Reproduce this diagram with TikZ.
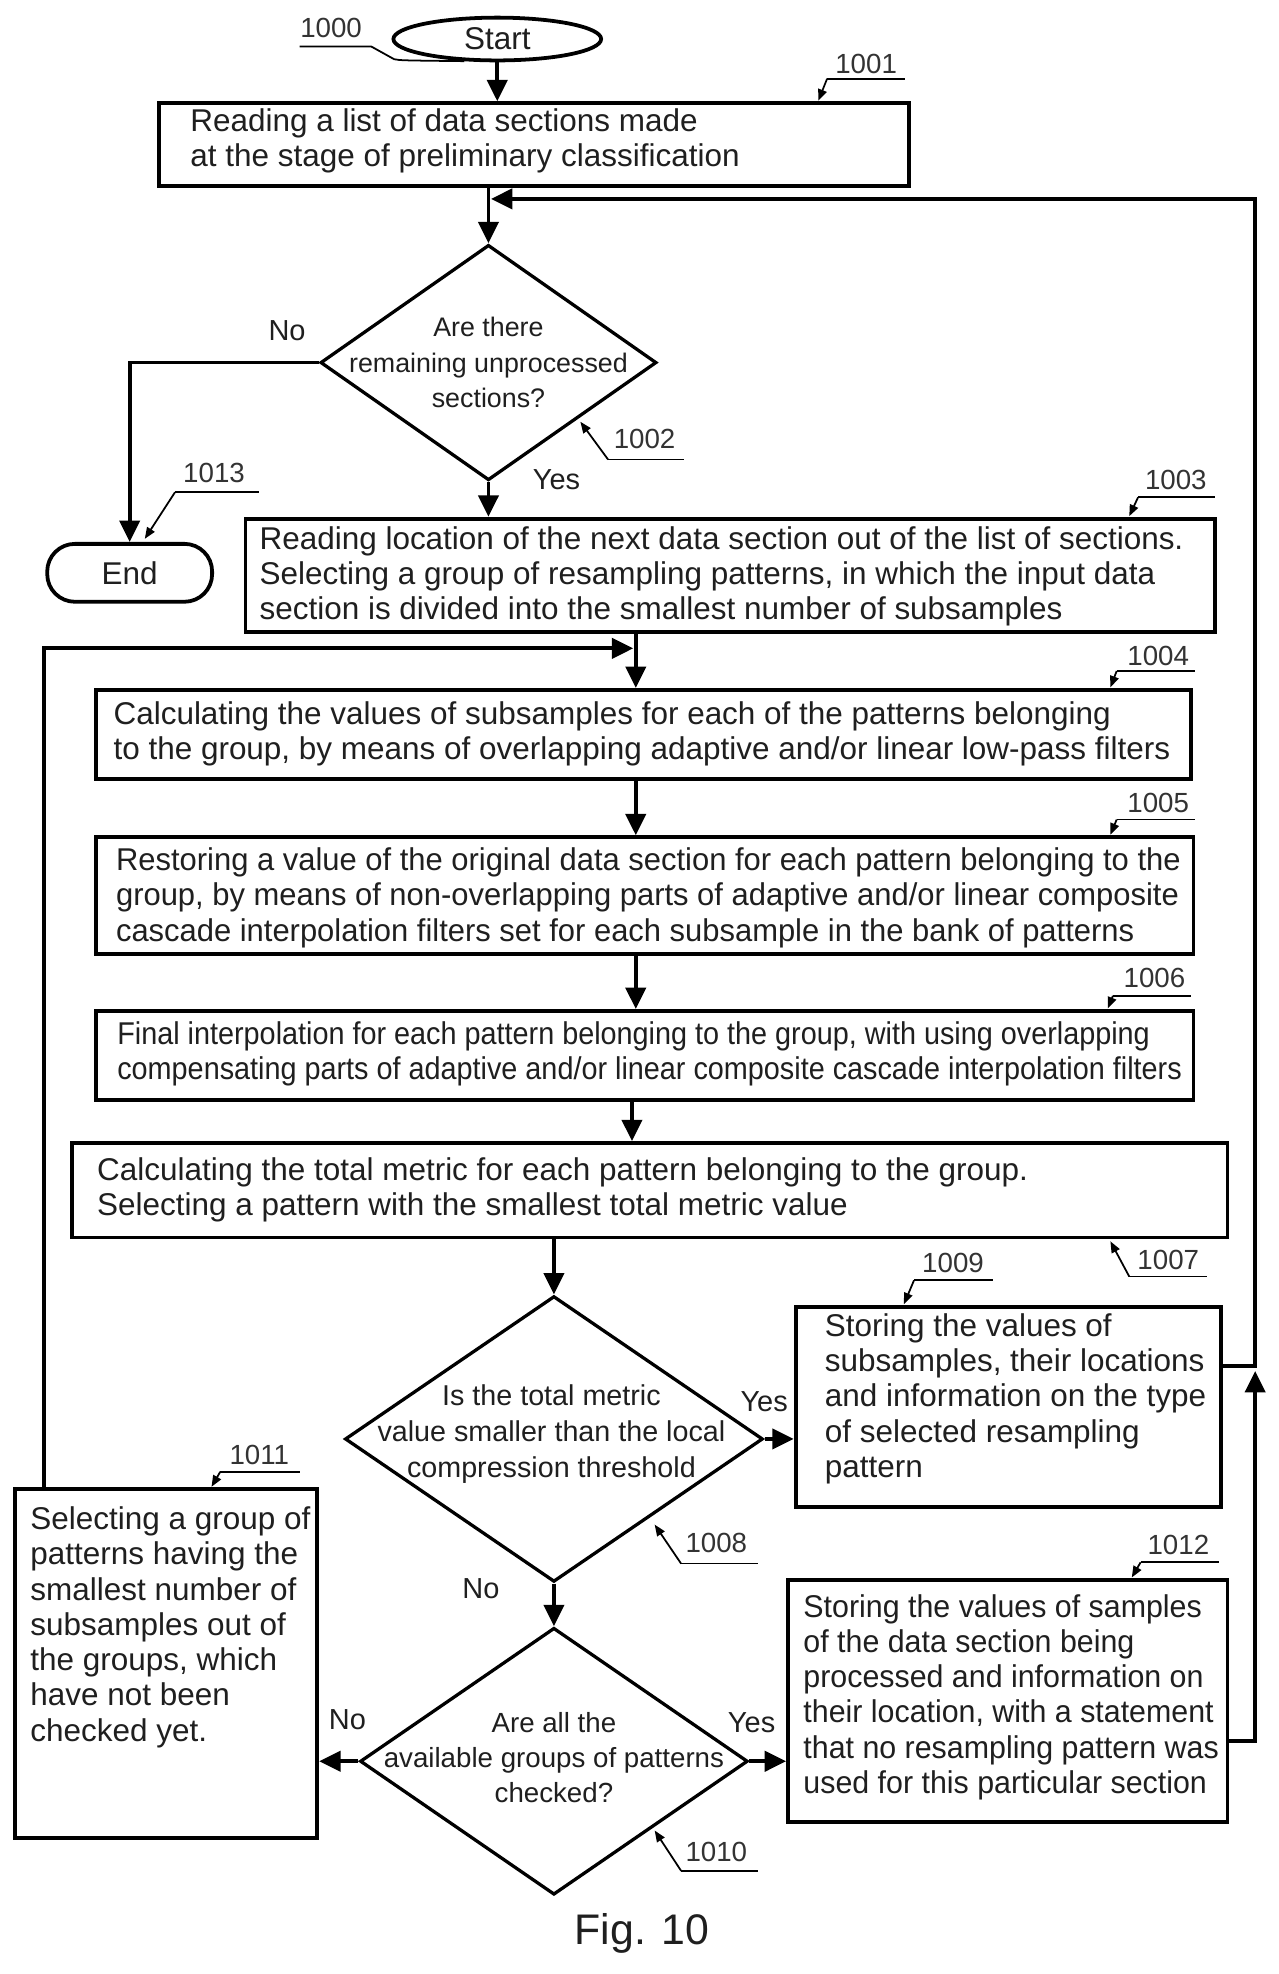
\documentclass[tikz,border=0pt]{standalone}
\usepackage{fontspec}
\setmainfont{Liberation Sans}
\newfontfamily\condA{Liberation Sans}[FakeStretch=0.983]
\newfontfamily\condB{Liberation Sans}[FakeStretch=0.915]
\newfontfamily\condC{Liberation Sans}[FakeStretch=0.965]
\usetikzlibrary{arrows.meta,shapes.geometric,calc}
\begin{document}
\begin{tikzpicture}[x=1pt,y=-1pt,
 every node/.style={text=black!88},
 box/.style={draw=black, line width=3.1pt, rectangle, inner sep=0pt},
 btext/.style={anchor=west, align=left, inner sep=0pt, font=\fontsize{25}{28}\selectfont},
 dia/.style={draw=black, line width=2.6pt, diamond, inner sep=0pt},
 dtext/.style={align=center, inner sep=0pt},
 term/.style={draw=black, line width=3pt, inner sep=0pt, font=\fontsize{25}{28}\selectfont},
 yn/.style={inner sep=0pt, font=\fontsize{23}{26}\selectfont},
 lbl/.style={inner sep=0pt, font=\fontsize{22}{24}\selectfont, text=black!80},
 uline/.style={line width=1.4pt},
 leader/.style={line width=1.4pt, -{Triangle[length=9pt,width=7pt]}},
 arr/.style={line width=3pt, -{Triangle[length=17pt,width=16pt]}},
]
\useasboundingbox (0,0) rectangle (1015.2,1568);
\fill[white] (0,0) rectangle (1015.2,1568);

% helper coordinates
\coordinate (sp) at (505,0);
\coordinate (sp2) at (502,0);
\coordinate (xl) at (35,0);
\coordinate (xr) at (997,0);

% terminals
\node[term, ellipse, minimum width=165pt, minimum height=34pt] (start) at (395,31) {Start};
\node[term, rectangle, rounded corners=22pt, minimum width=131pt, minimum height=46pt] (end) at (103,455) {End};

% boxes
\node[box, minimum width=596pt, minimum height=66pt] (n1001) at (424,115) {};
\node[btext] (t1001) at (151,112) {Reading a list of data sections made\\at the stage of preliminary classification};

\node[box, minimum width=770pt, minimum height=90pt] (n1003) at (580,457) {};
\node[btext] (t1003) at (206,458) {Reading location of the next data section out of the list of sections.\\Selecting a group of resampling patterns, in which the input data\\section is divided into the smallest number of subsamples};

\node[box, minimum width=870pt, minimum height=71pt] (n1004) at (511,583.5) {};
\node[btext] (t1004) at (90,583) {Calculating the values of subsamples for each of the patterns belonging\\to the group, by means of overlapping adaptive and/or linear low-pass filters};

\node[box, minimum width=872pt, minimum height=93pt] (n1005) at (512,711.5) {};
\node[btext, font=\condA\fontsize{25}{28}\selectfont] (t1005) at (92,713) {Restoring a value of the original data section for each pattern belonging to the\\group, by means of non-overlapping parts of adaptive and/or linear composite\\cascade interpolation filters set for each subsample in the bank of patterns};

\node[box, minimum width=872pt, minimum height=71pt] (n1006) at (512,838.5) {};
\node[btext, font=\condB\fontsize{25}{28}\selectfont] (t1006) at (93,837) {Final interpolation for each pattern belonging to the group, with using overlapping\\compensating parts of adaptive and/or linear composite cascade interpolation filters};

\node[box, minimum width=918pt, minimum height=75pt] (n1007) at (516,945.5) {};
\node[btext] (t1007) at (77,945) {Calculating the total metric for each pattern belonging to the group.\\Selecting a pattern with the smallest total metric value};

\node[box, minimum width=338pt, minimum height=159pt] (n1009) at (801,1117.5) {};
\node[btext] (t1009) at (655,1111) {Storing the values of\\subsamples, their locations\\and information on the type\\of selected resampling\\pattern};

\node[box, minimum width=240pt, minimum height=277pt] (n1011) at (132,1321.5) {};
\node[btext] (t1011) at (24,1292.5) {Selecting a group of\\patterns having the\\smallest number of\\subsamples out of\\the groups, which\\have not been\\checked yet.};

\node[box, minimum width=349pt, minimum height=192pt] (n1012) at (800.5,1351) {};
\node[btext, font=\condC\fontsize{25}{28}\selectfont] (t1012) at (638,1348) {Storing the values of samples\\of the data section being\\processed and information on\\their location, with a statement\\that no resampling pattern was\\used for this particular section};

% diamonds
\node[dia, minimum width=267pt, minimum height=187pt] (d1002) at (388,288) {};
\node[dtext, font=\fontsize{21.3}{28}\selectfont] (e1002) at (388,288) {Are there\\remaining unprocessed\\sections?};

\node[dia, minimum width=332pt, minimum height=227pt] (d1008) at (440,1143) {};
\node[dtext, font=\fontsize{22.8}{28.5}\selectfont] (e1008) at (438,1139) {Is the total metric\\value smaller than the local\\compression threshold};

\node[dia, minimum width=308pt, minimum height=212pt] (d1010) at (440,1399) {};
\node[dtext, font=\fontsize{22}{28}\selectfont] (e1010) at (440,1396) {Are all the\\available groups of patterns\\checked?};

% yes/no labels
\node[yn] (no1) at (228,263) {No};
\node[yn] (yes1) at (442,381) {Yes};
\node[yn] (yes2) at (607,1113) {Yes};
\node[yn] (no2) at (382,1262) {No};
\node[yn] (no3) at (276,1366) {No};
\node[yn] (yes3) at (597,1368) {Yes};

% connectors
\draw[arr] (start.south) -- (start.south |- n1001.north);
\draw[arr] (n1001.south -| d1002.north) -- (d1002.north);
\draw[arr] (d1002.south) -- (d1002.south |- n1003.north);
\draw[arr] (d1002.west) -| (end.north);
\draw[arr] (n1003.south -| sp) -- (n1004.north -| sp);
\draw[arr] (n1004.south -| sp) -- (n1005.north -| sp);
\draw[arr] (n1005.south -| sp) -- (n1006.north -| sp);
\draw[arr] (n1006.south -| sp2) -- (n1007.north -| sp2);
\draw[arr] (n1007.south -| d1008.north) -- (d1008.north);
\draw[arr] (d1008.east) -- (d1008.east -| n1009.west);
\draw[arr] (d1008.south) -- (d1010.north);
\draw[arr] (d1010.west) -- (d1010.west -| n1011.east);
\draw[arr] (d1010.east) -- (d1010.east -| n1012.west);

\coordinate (jl) at (503,515);
\draw[arr] (n1011.north -| xl) |- (jl);

\coordinate (c12) at ($(n1012.east)+(0,32)$);
\coordinate (rtip) at (997,1089);
\draw[arr] (c12) -| (rtip);
\coordinate (c9) at ($(n1009.east)+(0,-32.5)$);
\coordinate (ltip) at (390,158);
\draw[arr] (c9) -| (xr |- ltip) -- (ltip);

% reference labels
\node[lbl] (l1000) at (263,22) {1000};
\coordinate (u1000a) at (238,37); \coordinate (u1000b) at (295,37);
\coordinate (k1000) at (313,47);
\draw[uline] (u1000a) -- (u1000b) -- (k1000) .. controls (318,48) .. (start.214);

\node[lbl] (l1001) at (688,51) {1001};
\coordinate (u1001) at (657,62.5); \coordinate (k1001) at (650,80);
\draw[uline] (u1001) -- ++(62,0); \draw[leader] (u1001) -- (k1001);

\node[lbl] (l1002) at (512,349) {1002};
\coordinate (u1002) at (483,365); \coordinate (k1002) at (461,335);
\draw[uline] (u1002) -- ++(60,0); \draw[leader] (u1002) -- (k1002);

\node[lbl] (l1013) at (170,376) {1013};
\coordinate (u1013) at (139,391); \coordinate (k1013) at (115,428);
\draw[uline] (u1013) -- ++(67,0); \draw[leader] (u1013) -- (k1013);

\node[lbl] (l1003) at (934,381) {1003};
\coordinate (u1003) at (904,395); \coordinate (k1003) at (897,410);
\draw[uline] (u1003) -- ++(61,0); \draw[leader] (u1003) -- (k1003);

\node[lbl] (l1004) at (920,521) {1004};
\coordinate (u1004) at (887,533); \coordinate (k1004) at (882,546);
\draw[uline] (u1004) -- ++(62,0); \draw[leader] (u1004) -- (k1004);

\node[lbl] (l1005) at (920,638) {1005};
\coordinate (u1005) at (887,651); \coordinate (k1005) at (882,663);
\draw[uline] (u1005) -- ++(62,0); \draw[leader] (u1005) -- (k1005);

\node[lbl] (l1006) at (917,777) {1006};
\coordinate (u1006) at (884,791); \coordinate (k1006) at (880,801);
\draw[uline] (u1006) -- ++(62,0); \draw[leader] (u1006) -- (k1006);

\node[lbl] (l1007) at (928,1001) {1007};
\coordinate (u1007) at (897,1014); \coordinate (k1007) at (882,986);
\draw[uline] (u1007) -- ++(62,0); \draw[leader] (u1007) -- (k1007);

\node[lbl] (l1009) at (757,1003) {1009};
\coordinate (u1009) at (726,1017); \coordinate (k1009) at (718,1036);
\draw[uline] (u1009) -- ++(63,0); \draw[leader] (u1009) -- (k1009);

\node[lbl] (l1011) at (206,1156) {1011};
\coordinate (u1011) at (175,1169); \coordinate (k1011) at (168,1181);
\draw[uline] (u1011) -- ++(63,0); \draw[leader] (u1011) -- (k1011);

\node[lbl] (l1008) at (569,1226) {1008};
\coordinate (u1008) at (541,1242); \coordinate (k1008) at (520,1211);
\draw[uline] (u1008) -- ++(61,0); \draw[leader] (u1008) -- (k1008);

\node[lbl] (l1012) at (936,1227) {1012};
\coordinate (u1012) at (906,1241); \coordinate (k1012) at (899,1253);
\draw[uline] (u1012) -- ++(62,0); \draw[leader] (u1012) -- (k1012);

\node[lbl] (l1010) at (569,1471) {1010};
\coordinate (u1010) at (541,1486); \coordinate (k1010) at (520,1454);
\draw[uline] (u1010) -- ++(61,0); \draw[leader] (u1010) -- (k1010);

% caption
\node[inner sep=0pt, font=\fontsize{34}{36}\selectfont] (fig) at (510,1536) {Fig. 10};
\end{tikzpicture}
\end{document}
